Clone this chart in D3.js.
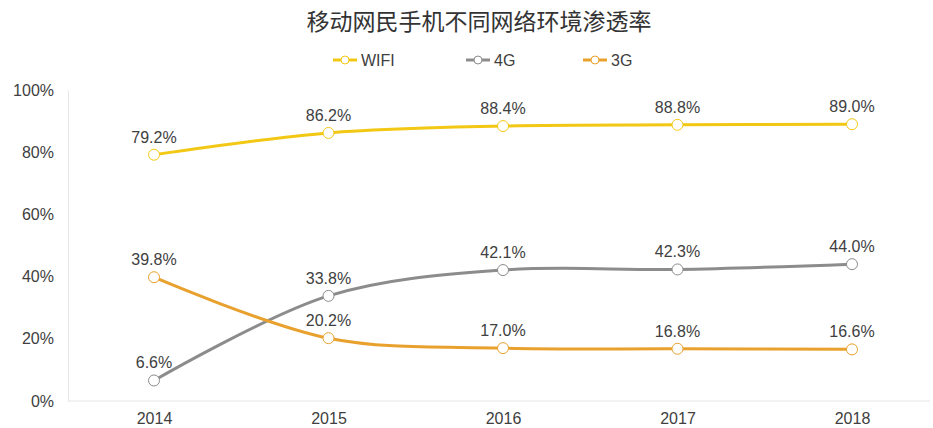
<!DOCTYPE html>
<html>
<head>
<meta charset="utf-8">
<script src="https://cdn.jsdelivr.net/npm/d3@7"></script>
<style>
  body { margin: 0; background: #fff; }
  svg { display: block; font-family: "Liberation Sans", Arial, sans-serif; }
</style>
</head>
<body>
<div class="chart"></div>
<script>
var years = ["2014", "2015", "2016", "2017", "2018"];
var wifiValues = [79.2, 86.2, 88.4, 88.8, 89.0];
var g4Values = [6.6, 33.8, 42.1, 42.3, 44.0];
var g3Values = [39.8, 20.2, 17.0, 16.8, 16.6];
var yTicks = [0, 20, 40, 60, 80, 100];

var seriesNames = ["WIFI", "4G", "3G"];
var seriesColors = ["#f2c814", "#8c8c8c", "#e9a12e"];

var chartOptions = {
  width: 933,
  height: 428,
  left: 68,
  right: 930,
  top: 90,
  bottom: 401
};

var series = [
  { name: seriesNames[0], color: seriesColors[0], values: wifiValues },
  { name: seriesNames[1], color: seriesColors[1], values: g4Values },
  { name: seriesNames[2], color: seriesColors[2], values: g3Values }
];

var svg = d3.select('.chart').append('svg')
  .attr('width', chartOptions.width)
  .attr('height', chartOptions.height);

var x = d3.scalePoint()
  .domain(years)
  .range([154, 852]);

var y = d3.scaleLinear()
  .domain([0, 100])
  .range([chartOptions.bottom, chartOptions.top]);

// title
svg.append('text')
  .attr('x', 479)
  .attr('y', 30)
  .attr('text-anchor', 'middle')
  .attr('font-family', '"Noto Sans CJK SC", sans-serif')
  .attr('font-size', 23)
  .attr('fill', '#333')
  .text('移动网民手机不同网络环境渗透率');

// legend
var legendX = [333, 466, 583];
var legend = svg.selectAll('g.legend')
  .data(series)
  .enter().append('g')
  .attr('class', 'legend')
  .attr('transform', function(d, i) { return 'translate(' + legendX[i] + ',60)'; });

legend.append('line')
  .attr('x1', 0).attr('x2', 24)
  .attr('y1', 0).attr('y2', 0)
  .attr('stroke', function(d) { return d.color; })
  .attr('stroke-width', 3);

legend.append('circle')
  .attr('cx', 12).attr('cy', 0).attr('r', 4)
  .attr('fill', '#fff')
  .attr('stroke', function(d) { return d.color; })
  .attr('stroke-width', 1);

legend.append('text')
  .attr('x', 28)
  .attr('y', 5.5)
  .attr('font-size', 16)
  .attr('fill', '#404040')
  .text(function(d) { return d.name; });

// y axis labels
var yAxis = d3.axisLeft(y)
  .tickValues(yTicks)
  .tickSize(0)
  .tickPadding(14)
  .tickFormat(function(d) { return d + '%'; });

var yG = svg.append('g')
  .attr('transform', 'translate(' + chartOptions.left + ',0)')
  .call(yAxis);
yG.select('.domain').attr('stroke', '#e6e6e6');
yG.selectAll('text')
  .attr('font-size', 16)
  .attr('fill', '#404040')
  .attr('font-family', '"Liberation Sans", Arial, sans-serif');

// x axis
var xAxis = d3.axisBottom(x).tickSize(0).tickPadding(12);
var xG = svg.append('g')
  .attr('transform', 'translate(0,' + chartOptions.bottom + ')')
  .call(xAxis);
xG.select('.domain').remove();
xG.append('line')
  .attr('x1', chartOptions.left).attr('x2', chartOptions.right)
  .attr('y1', 0).attr('y2', 0)
  .attr('stroke', '#e6e6e6');
xG.selectAll('text')
  .attr('font-size', 16)
  .attr('fill', '#404040')
  .attr('font-family', '"Liberation Sans", Arial, sans-serif');

// lines
var line = d3.line()
  .x(function(d, i) { return x(years[i]); })
  .y(function(d) { return y(d); })
  .curve(d3.curveCatmullRom.alpha(0.5));

svg.selectAll('path.series')
  .data(series)
  .enter().append('path')
  .attr('class', 'series')
  .attr('fill', 'none')
  .attr('stroke', function(d) { return d.color; })
  .attr('stroke-width', 3)
  .attr('d', function(d) { return line(d.values); });

// markers and labels
series.forEach(function(s) {
  var g = svg.append('g');
  g.selectAll('circle')
    .data(s.values)
    .enter().append('circle')
    .attr('cx', function(d, i) { return x(years[i]); })
    .attr('cy', function(d) { return y(d); })
    .attr('r', 5.5)
    .attr('fill', '#fff')
    .attr('stroke', s.color)
    .attr('stroke-width', 1);
  g.selectAll('text')
    .data(s.values)
    .enter().append('text')
    .attr('x', function(d, i) { return x(years[i]); })
    .attr('y', function(d) { return y(d) - 12; })
    .attr('text-anchor', 'middle')
    .attr('font-size', 16)
    .attr('fill', '#404040')
    .text(function(d) { return d.toFixed(1) + '%'; });
});
</script>
</body>
</html>
